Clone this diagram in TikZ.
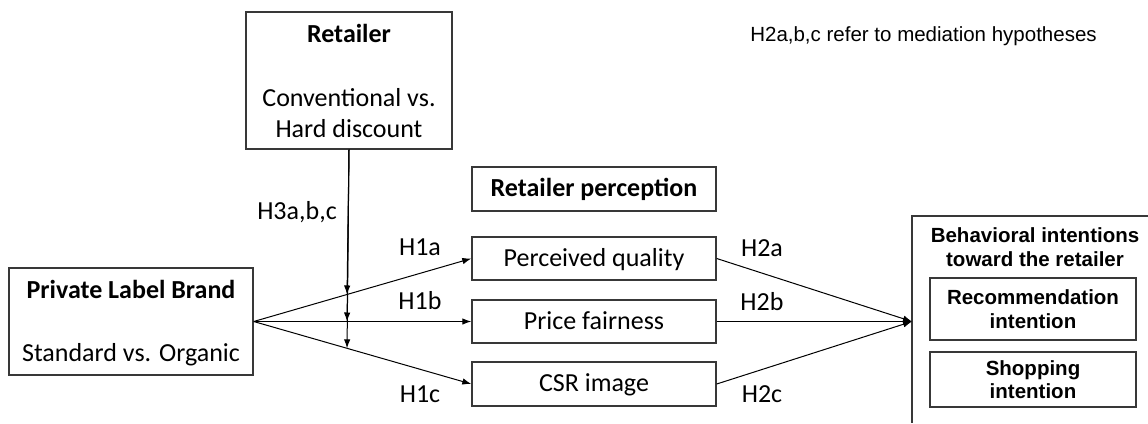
\documentclass[tikz,border=0pt]{standalone}
\usepackage{fontspec}
\setmainfont{Carlito}
\newfontfamily\arialfont{Liberation Sans}
\usetikzlibrary{arrows.meta,calc}
\begin{document}
\begin{tikzpicture}[x=1pt,y=-1pt,
  box/.style={draw=black!78,line width=1.4pt,inner sep=0pt,font=\fontsize{26}{31}\selectfont},
  tbox/.style={box,text height=19pt,text depth=4pt},
  lbl/.style={inner sep=0pt,text height=19pt,text depth=4pt,font=\fontsize{26}{31}\selectfont},
  lblb/.style={lbl,font=\fontsize{26}{31}\selectfont\bfseries},
  albl/.style={inner sep=0pt,align=center,font=\arialfont\fontsize{20.5}{23.5}\selectfont\bfseries},
  ar/.style={draw=black,line width=1pt,-{Latex[length=9pt,width=6.5pt]}},
]
\useasboundingbox (0,0) rectangle (1148,423);
% boxes
\node[box,minimum width=206pt,minimum height=137pt] (ret) at (349,80.5) {};
\node[lblb] (retT) at (349,35) {Retailer};
\node[lbl] (retA) at (349,99) {Conventional vs.};
\node[lbl] (retB) at (349,130) {Hard discount};

\node[box,minimum width=244pt,minimum height=107pt] (plb) at (131,321.5) {};
\node[lblb] (plbT) at (131,291) {Private Label Brand};
\node[lbl] (plbA) at (131,354) {Standard vs. Organic};

\node[tbox,minimum width=244pt,minimum height=44pt,font=\fontsize{26}{31}\selectfont\bfseries] (rp) at (594,189) {Retailer perception};
\node[tbox,minimum width=244pt,minimum height=43pt] (pq) at (594,258.5) {Perceived quality};
\node[tbox,minimum width=244pt,minimum height=43pt] (pf) at (594,321.5) {Price fairness};
\node[tbox,minimum width=244pt,minimum height=44pt] (csr) at (594,384) {CSR image};

% behavioral intentions (open box)
\coordinate (biTL) at (912,216);
\coordinate (biTR) at (1148,216);
\coordinate (biBL) at (912,423);
\draw[black!78,line width=1.4pt] (biTR) -- (biTL) -- (biBL);
\coordinate (bi) at (912,321.5);
\node[albl] (biT) at (1035,247) {Behavioral intentions\\toward the retailer};
\node[box,minimum width=206pt,minimum height=62pt,albl] (rec) at (1033,309) {Recommendation\\intention};
\node[box,minimum width=206pt,minimum height=55pt,albl] (shop) at (1033,379.5) {Shopping\\intention};

% note
\node[inner sep=0pt,font=\arialfont\fontsize{20.5}{24}\selectfont] (note) at (923.5,36) {H2a,b,c refer to mediation hypotheses};

% connectors
\draw[ar] (plb.east) -- (pq.west);
\draw[ar] (plb.east) -- (pf.west);
\draw[ar] (plb.east) -- (csr.west);
\draw[ar] (pq.east) -- (bi);
\draw[ar] (pf.east) -- (bi);
\draw[ar] (csr.east) -- (bi);

\coordinate (m1) at ($(plb.east)!0.429!(pq.west)$);
\coordinate (m2) at ($(plb.east)!0.429!(pf.west)$);
\coordinate (m3) at ($(plb.east)!0.429!(csr.west)$);
\draw[ar] (ret.south) -- (m1);
\draw[ar] (ret.south) -- (m2);
\draw[ar] (ret.south) -- (m3);

% labels
\node[lbl] (h3) at (297,212) {H3a,b,c};
\node[lbl] (h1a) at (420,248) {H1a};
\node[lbl] (h1b) at (420,302) {H1b};
\node[lbl] (h1c) at (420,395) {H1c};
\node[lbl] (h2a) at (762,249) {H2a};
\node[lbl] (h2b) at (762,303) {H2b};
\node[lbl] (h2c) at (762,395) {H2c};
\end{tikzpicture}
\end{document}
